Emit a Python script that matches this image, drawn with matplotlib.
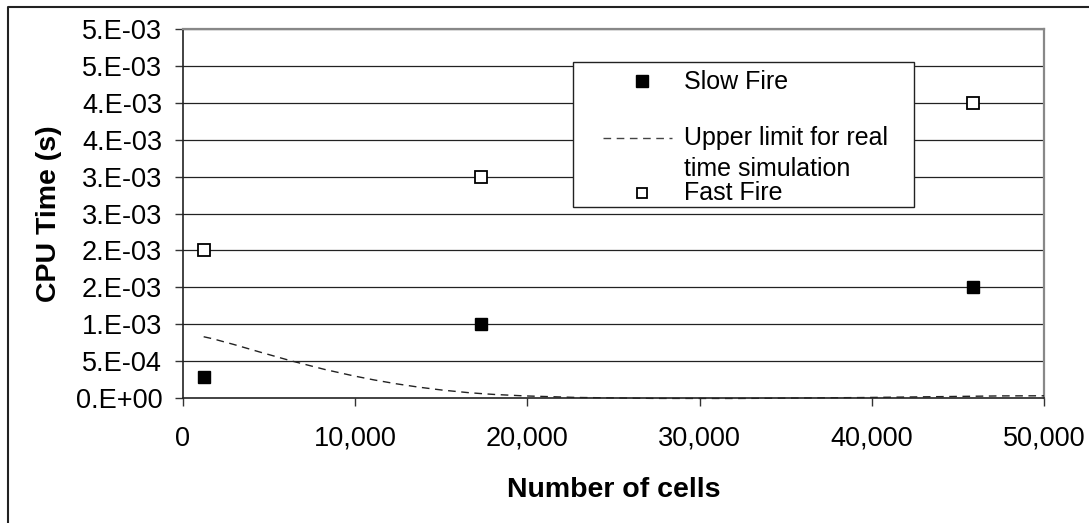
import matplotlib
matplotlib.use("Agg")
import matplotlib.pyplot as plt
from matplotlib.path import Path
from matplotlib.patches import PathPatch, Rectangle
from matplotlib.lines import Line2D
from matplotlib.ticker import FuncFormatter

plt.rcParams['font.family'] = ['Liberation Sans', 'DejaVu Sans']

# ---- data ----
cells = [1200, 17300, 45900]
slow_fire = [0.29e-3, 1.0e-3, 1.5e-3]
fast_fire = [2.0e-3, 3.0e-3, 4.0e-3]
limit_cells = [1200, 17300, 50000]
limit_time = [0.83e-3, 0.06e-3, 0.03e-3]
y_ticks = [0.0, 0.5e-3, 1.0e-3, 1.5e-3, 2.0e-3, 2.5e-3, 3.0e-3, 3.5e-3, 4.0e-3, 4.5e-3, 5.0e-3]
y_tick_labels = ['0.E+00', '5.E-04', '1.E-03', '2.E-03', '2.E-03', '3.E-03',
                 '3.E-03', '4.E-03', '4.E-03', '5.E-03', '5.E-03']
x_ticks = [0, 10000, 20000, 30000, 40000, 50000]

W, H = 1089, 523
fig = plt.figure(figsize=(W / 100, H / 100), dpi=100)
ax = fig.add_axes([183 / W, (H - 398) / H, (1044 - 183) / W, (398 - 29) / H])

ax.set_xlim(0, 50000)
ax.set_ylim(0, 5.0e-3)
ax.set_yticks(y_ticks, y_tick_labels)
ax.set_xticks(x_ticks)
ax.xaxis.set_major_formatter(FuncFormatter(lambda v, p: f"{v:,.0f}"))
ax.tick_params(axis='both', direction='out', length=6, width=1, color='#333333',
               labelsize=19.5)
ax.tick_params(axis='y', pad=9)
ax.tick_params(axis='x', pad=14)

for yv in y_ticks[1:]:
    ax.axhline(yv, color='#222222', lw=0.9, zorder=1)

for s in ['left', 'bottom']:
    ax.spines[s].set_color('#222222')
    ax.spines[s].set_linewidth(1.2)
for s in ['top', 'right']:
    ax.spines[s].set_color('#888888')
    ax.spines[s].set_linewidth(1.6)

# smoothed (Excel-like Catmull-Rom bezier) dashed limit line
pts = list(zip(limit_cells, limit_time))
verts = [pts[0]]
codes = [Path.MOVETO]
n = len(pts)
for i in range(n - 1):
    p0 = pts[i - 1] if i > 0 else pts[i]
    p1 = pts[i]
    p2 = pts[i + 1]
    p3 = pts[i + 2] if i + 2 < n else pts[i + 1]
    c1 = (p1[0] + (p2[0] - p0[0]) / 6, p1[1] + (p2[1] - p0[1]) / 6)
    c2 = (p2[0] - (p3[0] - p1[0]) / 6, p2[1] - (p3[1] - p1[1]) / 6)
    verts += [c1, c2, p2]
    codes += [Path.CURVE4] * 3
patch = PathPatch(Path(verts, codes), fill=False, edgecolor='#222222', lw=1.0,
                  linestyle=(0, (5.5, 4)), zorder=3, clip_on=False)
ax.add_patch(patch)

ax.plot(cells, slow_fire, linestyle='none', marker='s', markersize=8.5,
        markerfacecolor='black', markeredgecolor='black', zorder=4, clip_on=False)
ax.plot(cells, fast_fire, linestyle='none', marker='s', markersize=8.5,
        markerfacecolor='white', markeredgecolor='black', markeredgewidth=1.3,
        zorder=4, clip_on=False)

ax.set_xlabel('Number of cells', fontsize=20.5, fontweight='bold', labelpad=18.5)
ax.set_ylabel('CPU Time (s)', fontsize=20.5, fontweight='bold')
ax.yaxis.set_label_coords((62 - 183) / (1044 - 183), 0.5)


def fx(x):
    return x / W


def fy(y):
    return 1 - y / H


# legend (manual, to match layout)
fig.add_artist(Rectangle((fx(573), fy(207)), (914 - 573) / W, (207 - 62) / H,
                         transform=fig.transFigure, fill=True, facecolor='white',
                         edgecolor='#222222', lw=1.0, zorder=5))
fig.add_artist(Line2D([fx(642)], [fy(81)], transform=fig.transFigure, marker='s',
                      markersize=8, markerfacecolor='black', markeredgecolor='black',
                      linestyle='none', zorder=6))
fig.add_artist(Line2D([fx(603), fx(672)], [fy(138), fy(138)], transform=fig.transFigure,
                      color='#444444', lw=1.0, linestyle=(0, (5.5, 4)), zorder=6))
fig.add_artist(Line2D([fx(642)], [fy(193)], transform=fig.transFigure, marker='s',
                      markersize=7, markerfacecolor='white', markeredgecolor='black',
                      markeredgewidth=1.3, linestyle='none', zorder=6))
leg_fs = 18
fig.text(fx(684), fy(89), 'Slow Fire', fontsize=leg_fs, va='baseline', ha='left', zorder=7)
fig.text(fx(684), fy(145), 'Upper limit for real', fontsize=leg_fs, va='baseline',
         ha='left', zorder=7)
fig.text(fx(684), fy(176), 'time simulation', fontsize=leg_fs, va='baseline',
         ha='left', zorder=7)
fig.text(fx(684), fy(200), 'Fast Fire', fontsize=leg_fs, va='baseline', ha='left', zorder=7)

# outer chart border (top and left visible)
fig.add_artist(Line2D([fx(7.5), fx(7.5), 1.0], [0.0, fy(6.5), fy(6.5)],
                      transform=fig.transFigure, color='#222222', lw=1.5))

fig.savefig('out.png', dpi=100)
